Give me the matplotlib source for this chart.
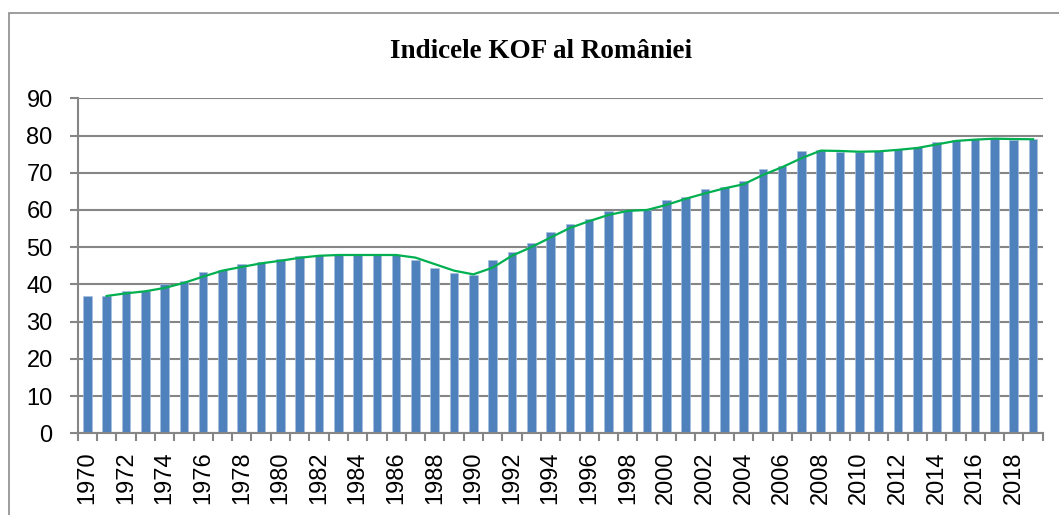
import matplotlib.pyplot as plt
import matplotlib.patches as mpatches
import numpy as np
import pandas as pd

# KOF globalisation index, Romania, 1970-2019
years = list(range(1970, 2020))
kof = [36.8, 37.0, 38.2, 38.1, 40.0, 40.8, 43.4, 44.0, 45.4, 45.9,
       46.8, 47.5, 47.9, 47.9, 47.9, 47.9, 47.9, 46.5, 44.4, 43.0,
       42.4, 46.6, 48.8, 51.2, 54.0, 56.3, 57.7, 59.6, 59.9, 60.1,
       62.6, 63.4, 65.5, 66.1, 67.7, 71.1, 71.9, 75.9, 76.0, 75.7,
       75.6, 75.9, 76.4, 76.9, 78.3, 78.8, 79.0, 79.3, 78.8, 79.2]
title = 'Indicele KOF al României'

# excel style 2 period moving average trendline
trend = pd.Series(kof).rolling(2).mean()

grid_col = '#868686'
W, H = 1059, 515
fig = plt.figure(figsize=(W / 100, H / 100), dpi=100)
ax = fig.add_axes([77.7 / W, 1 - 433.3 / H, (1042.7 - 77.7) / W, (433.3 - 98.3) / H])

x = np.arange(len(years))
ax.bar(x, kof, width=0.45, color='#4F81BD', edgecolor='#A7BFDE', linewidth=0.5, zorder=2)
ax.plot(x, trend, color='#00B050', lw=1.6, zorder=3)

ax.set_xlim(-0.5, len(years) - 0.5)
ax.set_ylim(0, 90)
ax.set_yticks(range(0, 91, 10))
ax.yaxis.grid(True, color=grid_col, lw=1.5, zorder=0)
ax.set_axisbelow(True)

ax.set_xticks(x[::2])
ax.set_xticklabels([str(y) for y in years[::2]], rotation=90)
ax.set_xticks(np.arange(len(years) + 1) - 0.5, minor=True)
ax.tick_params(axis='x', which='major', length=0, pad=13, labelsize=17)
ax.tick_params(axis='x', which='minor', length=6, width=1.5, color=grid_col)
ax.tick_params(axis='y', length=6, width=1.5, color=grid_col, pad=12, labelsize=17)
for lbl in ax.get_xticklabels() + ax.get_yticklabels():
    lbl.set_fontfamily('Liberation Sans')

for s in ['top', 'right']:
    ax.spines[s].set_visible(False)
for s in ['left', 'bottom']:
    ax.spines[s].set_color(grid_col)
    ax.spines[s].set_linewidth(1.5)

fig.text(541 / W, 1 - 51 / H, title, ha='center', va='center',
         fontsize=19.5, fontweight='bold', fontfamily='Liberation Serif')

# outer chart border (only top and left are inside the picture)
fig.add_artist(mpatches.Rectangle((8.7 / W, -0.1), 1.1, 1 - 13.3 / H + 0.1,
                                  transform=fig.transFigure, fill=False,
                                  edgecolor='#8c8c8c', lw=1.2))

fig.savefig('out.png', dpi=100)
